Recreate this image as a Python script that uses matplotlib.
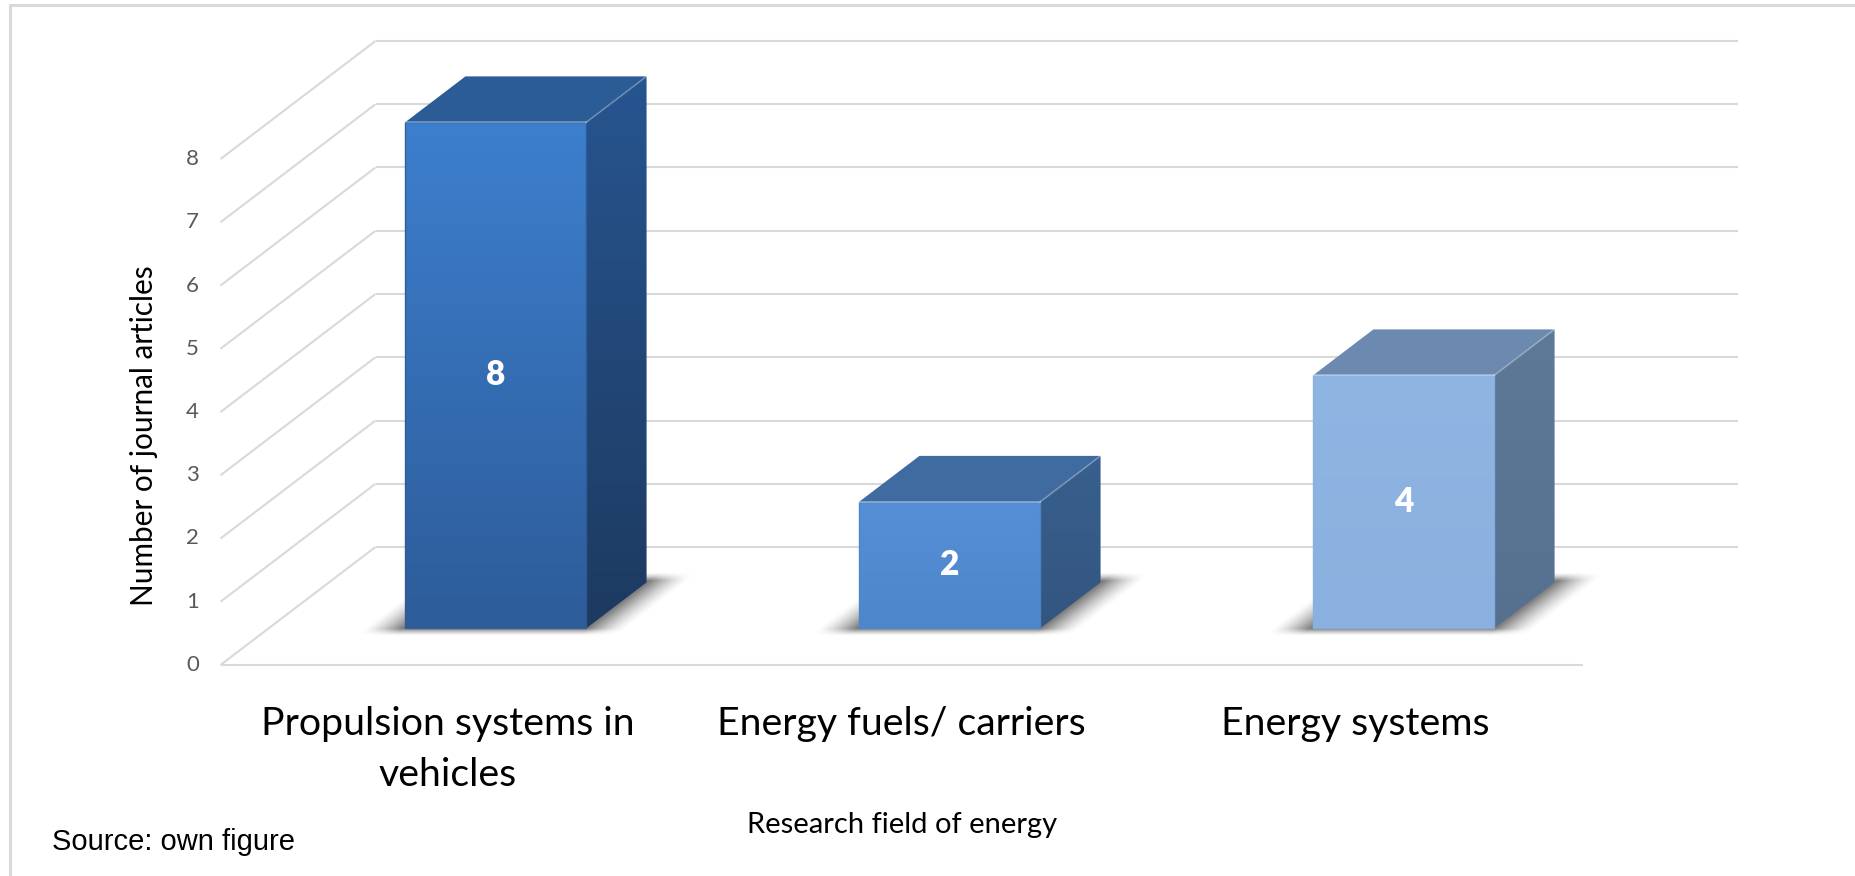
import numpy as np
import matplotlib
matplotlib.use("Agg")
import matplotlib.pyplot as plt
from matplotlib.patches import Polygon
from matplotlib.lines import Line2D
from matplotlib.colors import to_rgb

# ---------------- data ----------------
categories = ["Propulsion systems in\nvehicles", "Energy fuels/ carriers", "Energy systems"]
articles = [8, 2, 4]
y_ticks = [0, 1, 2, 3, 4, 5, 6, 7, 8]
y_title = "Number of journal articles"
x_title = "Research field of energy"
source_note = "Source: own figure"

# ---------------- styles ----------------
front_top = ["#3d7fce", "#568fd6", "#8fb5e3"]
front_bot = ["#2d5c99", "#4e86cb", "#8ab0df"]
top_col = ["#2b5c96", "#3f6ba1", "#6c89af"]
side_top = ["#275590", "#385f8e", "#5e7898"]
side_bot = ["#1d3a60", "#33567f", "#56708f"]
GRID = "#d9d9d9"

# ---------------- layout (pixels) ----------------
W, H, DPI = 1856, 876, 100
CAT0_PX, CAT_PX = 447.5, 454.0        # x of category 0 (front plane), spacing
ZERO_PX, UNIT_PX = 211.0, 63.25       # y of value 0 (front plane, from bottom), px per unit
DX = 155.0 / CAT_PX                   # depth offset in category units
DY = 118.0 / UNIT_PX                  # depth offset in value units
ZF, ZB = 0.31, 0.70                   # bar front/back depth
BAR_W = 0.399

fig = plt.figure(figsize=(W / DPI, H / DPI), dpi=DPI)
fig.patch.set_facecolor("white")
ax = fig.add_axes([0, 0, 1, 1])
ax.axis("off")
XLIM = (-CAT0_PX / CAT_PX, (W - CAT0_PX) / CAT_PX)
YLIM = (-ZERO_PX / UNIT_PX, (H - ZERO_PX) / UNIT_PX)
ax.set_xlim(*XLIM)
ax.set_ylim(*YLIM)
ax.set_autoscale_on(False)


def px2y(px_from_top):
    return (H - px_from_top - ZERO_PX) / UNIT_PX


def px2x(px):
    return (px - CAT0_PX) / CAT_PX


def proj(x, y, z):
    return x + z * DX, y + z * DY


n = len(categories)
xl, xr = -0.5, n - 0.5

# frame (top and left border)
fig.add_artist(Line2D([10 / W, 1], [1 - 5 / H, 1 - 5 / H], transform=fig.transFigure,
                      color=GRID, lw=2.2))
fig.add_artist(Line2D([10 / W, 10 / W], [0, 1 - 5 / H], transform=fig.transFigure,
                      color=GRID, lw=2.2))

# gridlines: back wall and left wall
for v in y_ticks:
    a = proj(xl, v, 1)
    b = proj(xr, v, 1)
    ax.plot([a[0], b[0]], [a[1], b[1]], color=GRID, lw=1.5, zorder=1, solid_capstyle="butt")
    c = proj(xl, v, 0)
    ax.plot([c[0], a[0]], [c[1], a[1]], color=GRID, lw=1.5, zorder=1, solid_capstyle="butt")
    ax.text(c[0] - 28 / CAT_PX, c[1], str(v), ha="center", va="center",
            fontsize=16, color="#595959", family="Lato")
# floor front edge
a = proj(xl, 0, 0)
b = proj(xr, 0, 0)
ax.plot([a[0], b[0]], [a[1], b[1]], color=GRID, lw=1.5, zorder=1, solid_capstyle="butt")


def gradient_face(verts, c_top, c_bot, z):
    poly = Polygon(verts, closed=True, facecolor="none", edgecolor="none", zorder=z)
    ax.add_patch(poly)
    xs = [p[0] for p in verts]
    ys = [p[1] for p in verts]
    t = np.linspace(0, 1, 256)[:, None, None]
    ct = np.array(to_rgb(c_top))[None, None, :]
    cb = np.array(to_rgb(c_bot))[None, None, :]
    img = cb + (ct - cb) * t
    im = ax.imshow(img, extent=[min(xs), max(xs), min(ys), max(ys)], origin="lower",
                   aspect="auto", interpolation="bilinear", zorder=z)
    im.set_clip_path(poly)


def shadow(x0, x1, z):
    X0, X1 = x0 - 0.2, x1 + 0.2 + DX
    Y0, Y1 = 0.05 * DY, 0.95 * DY
    gx = np.linspace(X0, X1, 400)
    gy = np.linspace(Y0, Y1, 250)
    GX, GY = np.meshgrid(gx, gy)
    zz = GY / DY
    xx = GX - zz * DX
    dxo = np.maximum(np.maximum(x0 - 0.005 - xx, xx - x1 - 0.005), 0)
    dzf = np.maximum(ZF - 0.005 - zz, 0)
    dzb = np.maximum(zz - ZB - 0.01, 0)
    fx = np.clip(1 - dxo / 0.085, 0, 1) ** 1.4
    fz = np.clip(1 - dzf / 0.06, 0, 1) ** 1.4 * np.clip(1 - dzb / 0.07, 0, 1) ** 1.4
    alpha = 0.72 * fx * fz
    img = np.zeros(GX.shape + (4,))
    img[..., :3] = 0.3
    img[..., 3] = alpha
    ax.imshow(img, extent=[X0, X1, Y0, Y1], origin="lower", aspect="auto",
              interpolation="bilinear", zorder=z)


for i, v in enumerate(articles):
    x0, x1 = i - BAR_W / 2, i + BAR_W / 2
    shadow(x0, x1, 2)
    side = [proj(x1, 0, ZF), proj(x1, v, ZF), proj(x1, v, ZB), proj(x1, 0, ZB)]
    gradient_face(side, side_top[i], side_bot[i], 3)
    topf = [proj(x0, v, ZF), proj(x1, v, ZF), proj(x1, v, ZB), proj(x0, v, ZB)]
    ax.add_patch(Polygon(topf, closed=True, facecolor=top_col[i], edgecolor="none", zorder=3))
    front = [proj(x0, 0, ZF), proj(x1, 0, ZF), proj(x1, v, ZF), proj(x0, v, ZF)]
    gradient_face(front, front_top[i], front_bot[i], 4)
    # subtle bevel highlights / outline
    ax.add_patch(Polygon(front, closed=True, facecolor="none", edgecolor=front_bot[i],
                         lw=1.0, alpha=0.9, zorder=4.5))
    p, q = proj(x0, v, ZF), proj(x1, v, ZF)
    ax.plot([p[0], q[0]], [p[1], q[1]], color="white", alpha=0.3, lw=1.4, zorder=5)
    r = proj(x1, v, ZB)
    ax.plot([q[0], r[0]], [q[1], r[1]], color="white", alpha=0.2, lw=1.4, zorder=5)
    lx, ly = proj(i, v / 2, ZF)
    ax.text(lx, ly, str(v), ha="center", va="center", color="white",
            fontsize=24, fontweight="heavy", family="Lato", zorder=6)

renderer = fig.canvas.get_renderer()


def fit(txt, target, vertical=False):
    bb = txt.get_window_extent(renderer)
    cur = bb.height if vertical else bb.width
    txt.set_fontsize(txt.get_fontsize() * target / cur)


# category labels
cat_texts = []
for i, cat in enumerate(categories):
    t = ax.text(i, px2y(706), cat, ha="center", va="top", fontsize=26,
                family="Lato", color="#000000", linespacing=1.5, multialignment="center")
    cat_texts.append(t)
fit(cat_texts[0], 373)
for t in cat_texts[1:]:
    t.set_fontsize(cat_texts[0].get_fontsize())

# axis titles
yt = ax.text(px2x(144), px2y(436), y_title, rotation=90, ha="center", va="center",
             fontsize=18, family="Lato", color="#000000")
fit(yt, 340, vertical=True)
xt = ax.text(px2x(902), px2y(825), x_title, ha="center", va="center",
             fontsize=18, family="Lato", color="#000000")
fit(xt, 309)

# source note
st = ax.text(px2x(52), px2y(842), source_note, ha="left", va="center",
             fontsize=18, family="Liberation Sans", color="#000000")
fit(st, 243)

ax.set_xlim(*XLIM)
ax.set_ylim(*YLIM)
fig.savefig("out.png", dpi=DPI, facecolor="white")
